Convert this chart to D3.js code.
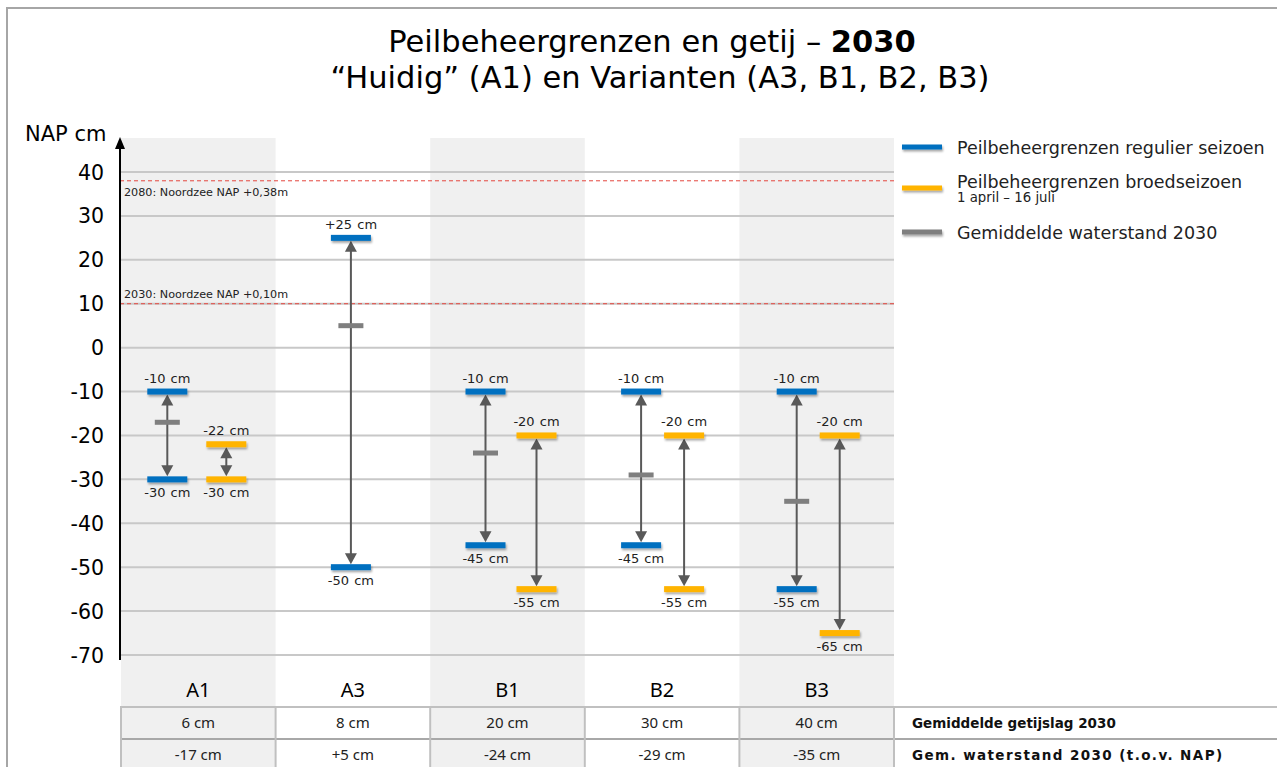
<!DOCTYPE html>
<html>
<head>
<meta charset="utf-8">
<script src="https://cdn.jsdelivr.net/npm/d3@7"></script>
<style>
  html, body { margin: 0; padding: 0; background: #fff; }
  #chart { width: 1277px; height: 767px; overflow: hidden; }
</style>
</head>
<body>
<div id="chart"></div>
<script>
// data ////////////////////////////////////////////
var variants = ['A1', 'A3', 'B1', 'B2', 'B3'];
var regulierTop = [-10, 25, -10, -10, -10];
var regulierBottom = [-30, -50, -45, -45, -55];
var regulierTopLabel = ['-10 cm', '+25  cm', '-10 cm', '-10 cm', '-10 cm'];
var regulierBottomLabel = ['-30 cm', '-50 cm', '-45 cm', '-45 cm', '-55 cm'];
var broedTop = [-22, null, -20, -20, -20];
var broedBottom = [-30, null, -55, -55, -65];
var broedTopLabel = ['-22 cm', null, '-20 cm', '-20 cm', '-20 cm'];
var broedBottomLabel = ['-30 cm', null, '-55 cm', '-55 cm', '-65 cm'];
var gemWaterstand = [-17, 5, -24, -29, -35];
var getijslag = ['6 cm', '8 cm', '20 cm', '30 cm', '40 cm'];
var waterstandText = ['-17 cm', '+5 cm', '-24 cm', '-29 cm', '-35 cm'];
var yTicks = [40, 30, 20, 10, 0, -10, -20, -30, -40, -50, -60, -70];
var noordzeeValues = [38, 10];
var noordzeeLabels = ['2080: Noordzee NAP +0,38m', '2030: Noordzee NAP +0,10m'];
var legendLabels = ['Peilbeheergrenzen regulier seizoen', 'Peilbeheergrenzen broedseizoen', 'Gemiddelde waterstand 2030'];
var tableRowLabels = ['Gemiddelde getijslag  2030', 'Gem. waterstand 2030 (t.o.v. NAP)'];

(function draw() {
    "use strict";
    var width = 1277, height = 767;
    var blue = '#0070c0', yellow = '#ffb400', grey = '#7f7f7f', arrowCol = '#595959';
    var font = '"DejaVu Sans", Verdana, sans-serif';
    var font2 = '"Noto Sans", Tahoma, sans-serif';
    // horizontal shift of the blue / yellow marks inside each column (layout only)
    var shift = [[-31, 28], [-2], [-22, 29], [-21, 22], [-20, 23]];

    var svg = d3.select('#chart').append('svg')
        .attr('width', width).attr('height', height);

    var defs = svg.append('defs');
    var f = defs.append('filter').attr('id', 'shadow')
        .attr('x', '-20%').attr('y', '-100%').attr('width', '140%').attr('height', '400%');
    f.append('feDropShadow').attr('dx', 1).attr('dy', 2).attr('stdDeviation', 1.3)
        .attr('flood-color', '#000').attr('flood-opacity', 0.35);

    // scales
    var x = d3.scaleBand().domain(variants).range([121, 894]);
    var y = d3.scaleLinear().domain([-70, 40]).range([655, 172]);
    var gridLeft = 120, gridRight = 894;
    var tableTop = 707, rowH = 32;

    // frame
    svg.append('path').attr('d', 'M7,' + height + 'V8H' + width)
        .attr('fill', 'none').attr('stroke', '#a6a6a6').attr('stroke-width', 2);

    // shaded columns
    svg.selectAll('rect.band').data(variants.filter(function(d, i) { return i % 2 === 0; }))
        .enter().append('rect').attr('class', 'band')
        .attr('x', function(d) { return x(d); })
        .attr('y', 138)
        .attr('width', x.bandwidth())
        .attr('height', tableTop + 2 * rowH - 138)
        .attr('fill', '#f0f0f0');

    // gridlines
    svg.selectAll('line.grid').data(yTicks).enter().append('line')
        .attr('class', 'grid')
        .attr('x1', gridLeft).attr('x2', gridRight)
        .attr('y1', function(d) { return y(d); }).attr('y2', function(d) { return y(d); })
        .attr('stroke', '#c8c8c8').attr('stroke-width', 2);

    // y tick labels
    svg.selectAll('text.ytick').data(yTicks).enter().append('text')
        .attr('class', 'ytick')
        .attr('x', 104).attr('y', function(d) { return y(d) + 7.5; })
        .attr('text-anchor', 'end')
        .style('font-family', font).style('font-size', '20.5px').style('fill', '#000')
        .text(function(d) { return d; });

    svg.append('text').attr('x', 25).attr('y', 141)
        .style('font-family', font).style('font-size', '21px')
        .text('NAP cm');

    // noordzee dashed lines
    noordzeeValues.forEach(function(v, i) {
        svg.append('line')
            .attr('x1', gridLeft).attr('x2', gridRight)
            .attr('y1', y(v)).attr('y2', y(v))
            .attr('stroke', '#e4463e').attr('stroke-width', 1)
            .attr('stroke-dasharray', '4,3');
        svg.append('text')
            .attr('x', 124)
            .attr('y', i === 0 ? y(v) + 15 : y(v) - 6)
            .style('font-family', font).style('font-size', '11.2px').style('fill', '#222')
            .text(noordzeeLabels[i]);
    });

    // y axis with arrow
    svg.append('line').attr('x1', 120).attr('x2', 120).attr('y1', 660).attr('y2', 146)
        .attr('stroke', '#000').attr('stroke-width', 2);
    svg.append('path').attr('d', 'M120,137L125,149L115,149Z').attr('fill', '#000');

    // ranges: build items from the arrays
    var ranges = [];
    variants.forEach(function(v, i) {
        var both = broedTop[i] !== null;
        var c = x(v) + x.bandwidth() / 2;
        ranges.push({ cx: c + shift[i][0], top: regulierTop[i], bottom: regulierBottom[i],
            topLabel: regulierTopLabel[i], bottomLabel: regulierBottomLabel[i], color: blue, mean: gemWaterstand[i] });
        if (both) {
            ranges.push({ cx: c + shift[i][1], top: broedTop[i], bottom: broedBottom[i],
                topLabel: broedTopLabel[i], bottomLabel: broedBottomLabel[i], color: yellow, mean: null });
        }
    });

    var barW = 40, barH = 6, head = 11;
    ranges.forEach(function(r) {
        var yt = y(r.top) + barH / 2, yb = y(r.bottom) - barH / 2;
        // arrow shaft
        svg.append('line').attr('x1', r.cx).attr('x2', r.cx)
            .attr('y1', yt + head - 1).attr('y2', yb - head + 1)
            .attr('stroke', arrowCol).attr('stroke-width', 2);
        svg.append('path')
            .attr('d', 'M' + r.cx + ',' + yt + 'l6,' + head + 'h-12Z')
            .attr('fill', arrowCol);
        svg.append('path')
            .attr('d', 'M' + r.cx + ',' + yb + 'l6,' + (-head) + 'h-12Z')
            .attr('fill', arrowCol);
        // bars
        [r.top, r.bottom].forEach(function(v) {
            svg.append('rect')
                .attr('x', r.cx - barW / 2).attr('y', y(v) - barH / 2)
                .attr('width', barW).attr('height', barH)
                .attr('fill', r.color).attr('filter', 'url(#shadow)');
        });
        // labels
        svg.append('text').attr('x', r.cx).attr('y', y(r.top) - 9)
            .attr('text-anchor', 'middle')
            .style('font-family', font).style('font-size', '13px').style('fill', '#222')
            .style('word-spacing', '1px')
            .text(r.topLabel);
        svg.append('text').attr('x', r.cx).attr('y', y(r.bottom) + 18)
            .attr('text-anchor', 'middle')
            .style('font-family', font).style('font-size', '13px').style('fill', '#222')
            .style('word-spacing', '1px')
            .text(r.bottomLabel);
        // mean marker
        if (r.mean !== null) {
            svg.append('rect')
                .attr('x', r.cx - 12.5).attr('y', y(r.mean) - 2.5)
                .attr('width', 25).attr('height', 5)
                .attr('fill', grey);
        }
    });

    // category labels
    svg.selectAll('text.cat').data(variants).enter().append('text')
        .attr('class', 'cat')
        .attr('x', function(d) { return x(d) + x.bandwidth() / 2; })
        .attr('y', 697)
        .attr('text-anchor', 'middle')
        .style('font-family', font2).style('font-size', '20px')
        .text(function(d) { return d; });

    // table
    var rows = [getijslag, waterstandText];
    rows.forEach(function(row, ri) {
        var ty = tableTop + ri * rowH;
        svg.selectAll('text.cell' + ri).data(row).enter().append('text')
            .attr('class', 'cell' + ri)
            .attr('x', function(d, i) { return x(variants[i]) + x.bandwidth() / 2; })
            .attr('y', ty + 21)
            .attr('text-anchor', 'middle')
            .style('font-family', font2).style('font-size', '15px').style('fill', '#222')
            .text(function(d) { return d; });
        svg.append('text').attr('x', 912).attr('y', ty + 21)
            .style('font-family', font).style('font-size', '13.5px').style('font-weight', 'bold')
            .style('fill', '#111')
            .style('letter-spacing', ri === 1 ? '1.4px' : '0px')
            .text(tableRowLabels[ri]);
        svg.append('line').attr('x1', 120).attr('x2', width)
            .attr('y1', ty).attr('y2', ty)
            .attr('stroke', ri === 0 ? '#c0c0c0' : '#a8a8a8').attr('stroke-width', 2);
    });
    var vlines = variants.map(function(d) { return x(d); }).concat([gridRight]);
    svg.selectAll('line.vcell').data(vlines).enter().append('line')
        .attr('class', 'vcell')
        .attr('x1', function(d) { return d; }).attr('x2', function(d) { return d; })
        .attr('y1', tableTop).attr('y2', height)
        .attr('stroke', '#c0c0c0').attr('stroke-width', 2);

    // title
    var title = svg.append('text').attr('x', 652).attr('y', 52)
        .attr('text-anchor', 'middle')
        .style('font-family', font).style('font-size', '30.5px').style('fill', '#000');
    title.append('tspan').text('Peilbeheergrenzen  en getij \u2013 ');
    title.append('tspan').style('font-weight', 'bold').text('2030');
    svg.append('text').attr('x', 660).attr('y', 88)
        .attr('text-anchor', 'middle')
        .style('font-family', font).style('font-size', '30.5px').style('fill', '#000')
        .text('\u201cHuidig\u201d (A1) en Varianten (A3, B1, B2, B3)');

    // legend
    var legendColors = [blue, yellow, grey];
    var legendY = [147, 188, 232];
    legendColors.forEach(function(c, i) {
        svg.append('rect').attr('x', 902).attr('y', legendY[i] - 2.5)
            .attr('width', 40).attr('height', 5).attr('fill', c)
            .attr('filter', 'url(#shadow)');
        svg.append('text').attr('x', 957).attr('y', legendY[i] + (i === 1 ? 0 : 7))
            .style('font-family', font).style('font-size', '17.5px').style('fill', '#222')
            .text(legendLabels[i]);
    });
    svg.append('text').attr('x', 957).attr('y', 202)
        .style('font-family', font).style('font-size', '13.3px').style('fill', '#222')
        .text('1 april \u2013 16 juli');
})();
</script>
</body>
</html>
